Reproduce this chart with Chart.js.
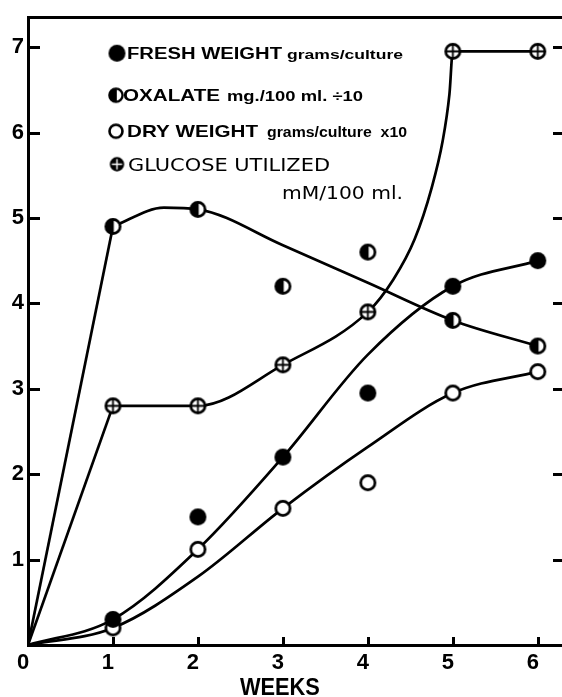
<!DOCTYPE html>
<html>
<head>
<meta charset="utf-8">
<script src="https://cdn.jsdelivr.net/npm/chart.js@4.4.1/dist/chart.umd.min.js"></script>
<style>
html,body{margin:0;padding:0;overflow:hidden;background:#fff;width:562px;height:697px}
#wrap{position:relative;width:568px;height:697px}
canvas{display:block}
</style>
</head>
<body>
<div id="wrap"><canvas id="c" width="568" height="697"></canvas></div>
<script>
// ---- measured points (weeks 1..6) ----
const weeks = [1, 2, 3, 4, 5, 6];
const freshWeight = [0.3, 1.5, 2.2, 2.95, 4.2, 4.5];
const oxalate = [4.9, 5.1, 4.2, 4.6, 3.8, 3.5];
const dryWeight = [0.2, 1.12, 1.6, 1.9, 2.95, 3.2];
const glucose = [2.8, 2.8, 3.28, 3.9, 6.95, 6.95];

// ---- hand-drawn fitted curves ----
const freshCurveX = [0, 1, 2, 3, 4, 5, 6];
const freshCurveY = [0, 0.3, 1.12, 2.2, 3.4, 4.2, 4.5];
const dryCurveX = [0, 1, 2, 3, 4, 5, 6];
const dryCurveY = [0, 0.2, 0.8, 1.6, 2.32, 2.95, 3.2];
const oxalateRiseX = [0, 1];
const oxalateRiseY = [0, 4.9];
const oxalateCurveX = [1, 1.6, 2, 3, 4, 5, 6];
const oxalateCurveY = [4.9, 5.12, 5.1, 4.68, 4.24, 3.8, 3.5];
const glucoseRiseX = [0, 1];
const glucoseRiseY = [0, 2.8];
const glucoseCurveX = [1, 2, 3, 4, 4.3, 4.55, 4.75, 4.88, 4.96, 5, 6];
const glucoseCurveY = [2.8, 2.8, 3.28, 3.9, 4.28, 4.75, 5.35, 5.9, 6.45, 6.95, 6.95];

// ---- axes ----
const xTicks = [0, 1, 2, 3, 4, 5, 6];
const yTicks = [1, 2, 3, 4, 5, 6, 7];
const xMin = 0, xMax = 6.32, yMin = 0, yMax = 7.35;
const xTitle = 'WEEKS';

// ---- legend text ----
const legendFresh = ['FRESH WEIGHT', 'grams/culture'];
const legendOxalate = ['OXALATE', 'mg./100 ml. \u00f710'];
const legendDry = ['DRY WEIGHT', 'grams/culture  x10'];
const legendGlucose = ['GLUCOSE UTILIZED', 'mM/100 ml.'];

const FONT = '"Liberation Sans", Arial, sans-serif';
const FONT2 = '"DejaVu Sans", "Liberation Sans", sans-serif';
const toXY = (xs, ys) => xs.map((x, i) => ({x: x, y: ys[i]}));

function makeMarker(kind, r, lw) {
  const c = document.createElement('canvas');
  const s = Math.ceil(r * 2 + 4);
  c.width = s; c.height = s;
  const g = c.getContext('2d');
  const m = s / 2;
  if (kind === 'filled') {
    g.beginPath(); g.arc(m, m, r, 0, Math.PI * 2); g.fillStyle = '#000'; g.fill();
    return c;
  }
  const ri = r - lw / 2;
  g.beginPath(); g.arc(m, m, ri, 0, Math.PI * 2);
  g.fillStyle = kind === 'glucoseKey' ? '#000' : '#fff'; g.fill();
  if (kind === 'half') {
    g.beginPath();
    g.moveTo(m + 0.8, m - ri);
    g.arc(m, m, ri, -Math.PI / 2, Math.PI / 2, true);
    g.lineTo(m + 0.8, m + ri);
    g.closePath();
    g.fillStyle = '#000'; g.fill();
  }
  if (kind === 'glucose' || kind === 'glucoseKey') {
    g.strokeStyle = kind === 'glucoseKey' ? '#fff' : '#000';
    g.lineWidth = kind === 'glucoseKey' ? 1.4 : 1.8;
    g.beginPath();
    g.moveTo(m - ri, m); g.lineTo(m + ri, m);
    g.moveTo(m, m - ri); g.lineTo(m, m + ri);
    g.stroke();
  }
  g.strokeStyle = '#000'; g.lineWidth = lw;
  g.beginPath(); g.arc(m, m, ri, 0, Math.PI * 2); g.stroke();
  return c;
}

const mkFilled = makeMarker('filled', 8.5, 0);
const mkHalf = makeMarker('half', 8.5, 2.7);
const mkOpen = makeMarker('open', 8.5, 2.7);
const mkGlucose = makeMarker('glucose', 8.5, 2.7);

function markerSet(label, ys, img) {
  return {type: 'line', label: label, data: toXY(weeks, ys), showLine: false,
    pointStyle: img, pointRadius: 8, order: 0};
}
function curveSet(label, xs, ys, smooth) {
  return {type: 'line', label: label, data: toXY(xs, ys), borderColor: '#000',
    borderWidth: 2.7, pointRadius: 0, fill: false, order: 1,
    cubicInterpolationMode: smooth ? 'monotone' : 'default', tension: 0};
}

function fitText(ctx, text, x, baseline, width, font) {
  ctx.font = font;
  const w = ctx.measureText(text).width;
  ctx.save();
  ctx.translate(x, baseline);
  ctx.scale(width / w, 1);
  ctx.textBaseline = 'alphabetic';
  ctx.textAlign = 'left';
  ctx.fillStyle = '#000';
  ctx.fillText(text, 0, 0);
  ctx.restore();
}

const decorPlugin = {
  id: 'decor',
  afterDraw(chart) {
    const {ctx, chartArea: a, scales: {x, y}} = chart;
    ctx.save();
    ctx.strokeStyle = '#000';
    ctx.lineWidth = 3;
    ctx.beginPath();
    yTicks.forEach(v => {
      const py = Math.round(y.getPixelForValue(v)) + 0.5;
      ctx.moveTo(a.left, py); ctx.lineTo(a.left + 12, py);
      ctx.moveTo(a.right, py); ctx.lineTo(a.right - 12, py);
    });
    xTicks.filter(v => v > 0).forEach(v => {
      const px = Math.round(x.getPixelForValue(v)) + 0.5;
      ctx.moveTo(px, a.bottom); ctx.lineTo(px, a.bottom - 8);
    });
    ctx.stroke();

    // legend (inside plot area, top-left)
    const L = a.left, T = a.top;
    const keys = [
      {img: makeMarker('filled', 8.5, 0), cx: L + 89, cy: T + 36},
      {img: makeMarker('half', 7.8, 2.4), cx: L + 88, cy: T + 78},
      {img: makeMarker('open', 7.8, 2.6), cx: L + 88, cy: T + 114},
      {img: makeMarker('glucoseKey', 7.2, 2), cx: L + 89, cy: T + 147}
    ];
    keys.forEach(k => ctx.drawImage(k.img, k.cx - k.img.width / 2, k.cy - k.img.height / 2));
    fitText(ctx, legendFresh[0], L + 99, T + 42, 155, 'bold 16px ' + FONT);
    fitText(ctx, legendFresh[1], L + 259, T + 42, 116, 'bold 13px ' + FONT);
    fitText(ctx, legendOxalate[0], L + 95, T + 84, 97, 'bold 16.5px ' + FONT);
    fitText(ctx, legendOxalate[1], L + 199, T + 84, 136, 'bold 15px ' + FONT);
    fitText(ctx, legendDry[0], L + 99, T + 120, 131, 'bold 17px ' + FONT);
    fitText(ctx, legendDry[1], L + 239, T + 120, 140, 'bold 14px ' + FONT);
    fitText(ctx, legendGlucose[0], L + 100, T + 154, 202, '18px ' + FONT2);
    fitText(ctx, legendGlucose[1], L + 254, T + 182, 121, '18px ' + FONT2);

    // axis title
    const cx = x.getPixelForValue(3) - 3;
    fitText(ctx, xTitle, cx - 40, 695, 80, 'bold 23px ' + FONT);
    ctx.restore();
  }
};

new Chart(document.getElementById('c'), {
  type: 'line',
  data: {
    datasets: [
      markerSet('Fresh weight', freshWeight, mkFilled),
      markerSet('Oxalate', oxalate, mkHalf),
      markerSet('Dry weight', dryWeight, mkOpen),
      markerSet('Glucose utilized', glucose, mkGlucose),
      curveSet('fresh curve', freshCurveX, freshCurveY, true),
      curveSet('dry curve', dryCurveX, dryCurveY, true),
      curveSet('oxalate rise', oxalateRiseX, oxalateRiseY, false),
      curveSet('oxalate curve', oxalateCurveX, oxalateCurveY, true),
      curveSet('glucose rise', glucoseRiseX, glucoseRiseY, false),
      curveSet('glucose curve', glucoseCurveX, glucoseCurveY, true)
    ]
  },
  options: {
    responsive: false,
    animation: false,
    devicePixelRatio: 1,
    events: [],
    layout: {padding: {left: 0, right: 3, top: 0, bottom: 0}, autoPadding: false},
    plugins: {legend: {display: false}, tooltip: {enabled: false}},
    scales: {
      x: {
        type: 'linear', position: 'bottom', min: xMin, max: xMax,
        afterBuildTicks: s => { s.ticks = xTicks.map(v => ({value: v})); },
        afterFit: s => { s.height = 52; },
        grid: {display: false, drawTicks: false, tickLength: 0},
        border: {display: true, width: 3, color: '#000'},
        ticks: {color: '#000', padding: 5, labelOffset: -5, maxRotation: 0,
          font: {family: FONT, size: 22, weight: 'bold'}}
      },
      xTop: {
        type: 'linear', position: 'top', min: xMin, max: xMax,
        afterFit: s => { s.height = 13; },
        grid: {display: false, drawTicks: false, tickLength: 0},
        border: {display: true, width: 3, color: '#000'},
        ticks: {display: false}
      },
      y: {
        type: 'linear', position: 'left', min: yMin, max: yMax,
        afterBuildTicks: s => { s.ticks = yTicks.map(v => ({value: v})); },
        afterFit: s => { s.width = 28; },
        grid: {display: false, drawTicks: false, tickLength: 0},
        border: {display: true, width: 3, color: '#000'},
        ticks: {color: '#000', padding: 4, crossAlign: 'center',
          font: {family: FONT, size: 22, weight: 'bold'}}
      }
    }
  },
  plugins: [decorPlugin]
});
</script>
</body>
</html>
